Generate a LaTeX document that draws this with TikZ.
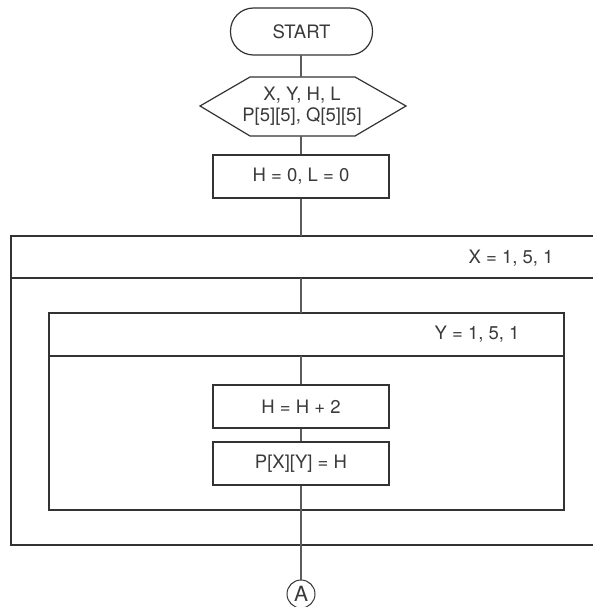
\documentclass[tikz,border=0pt]{standalone}
\usepackage{fontspec}
\setmainfont{TeX Gyre Heros}
\definecolor{ln}{HTML}{333333}
\definecolor{tx}{HTML}{3A3A3A}
\begin{document}
\begin{tikzpicture}[x=1pt,y=-1pt,
  every node/.style={font=\fontsize{18.5}{22}\selectfont, text=tx},
  line/.style={draw=ln, line width=1.2pt},
  conn/.style={draw=ln!80, line width=1.1pt},
  procbox/.style={line, rectangle, minimum width=176pt, minimum height=43pt, inner sep=0pt}
]
\useasboundingbox (0,0) rectangle (592,607);
% start
\node[line, rectangle, rounded corners=23pt, minimum width=142pt, minimum height=47pt, inner sep=0pt] (start) at (301.5,31.5) {START};
% input hexagon
\node[align=center, inner sep=0pt] (inp) at (302,106) {X, Y, H, L\\[-1pt]P[5][5], Q[5][5]};
\coordinate (inpT) at (301,77);
\coordinate (inpB) at (301,136);
\coordinate (startB) at (301,55);
\draw[line] (200,106) -- (250,77) -- (355,77) -- (406,106) -- (355,136) -- (250,136) -- cycle;
% init
\node[procbox] (init) at (301,176.5) {H = 0, L = 0};
% outer loop
\draw[line] (593,236) -- (11,236) -- (11,545) -- (593,545);
\draw[line] (11,278) -- (593,278);
\node (xloop) at (511,258) {X = 1, 5, 1};
\coordinate (outT) at (301,236);
\coordinate (outD) at (301,278);
% inner loop
\draw[line] (49,313) rectangle (564,510);
\draw[line] (49,356) -- (564,356);
\node (yloop) at (477,334) {Y = 1, 5, 1};
\coordinate (inT) at (301,313);
\coordinate (inD) at (301,356);
% body
\node[procbox] (h2) at (301,406.5) {H = H + 2};
\node[procbox] (pxy) at (301,463.5) {P[X][Y] = H};
% connector A
\node[draw=ln, line width=1pt, circle, minimum size=28pt, inner sep=0pt, font=\fontsize{21}{24}\selectfont] (A) at (301,594) {A};
% connectors
\draw[conn] (startB) -- (inpT);
\draw[conn] (inpB) -- (init.north);
\draw[conn] (init.south) -- (outT);
\draw[conn] (outD) -- (inT);
\draw[conn] (inD) -- (h2.north);
\draw[conn] (h2.south) -- (pxy.north);
\draw[conn] (pxy.south) -- (A.north);
\end{tikzpicture}
\end{document}
